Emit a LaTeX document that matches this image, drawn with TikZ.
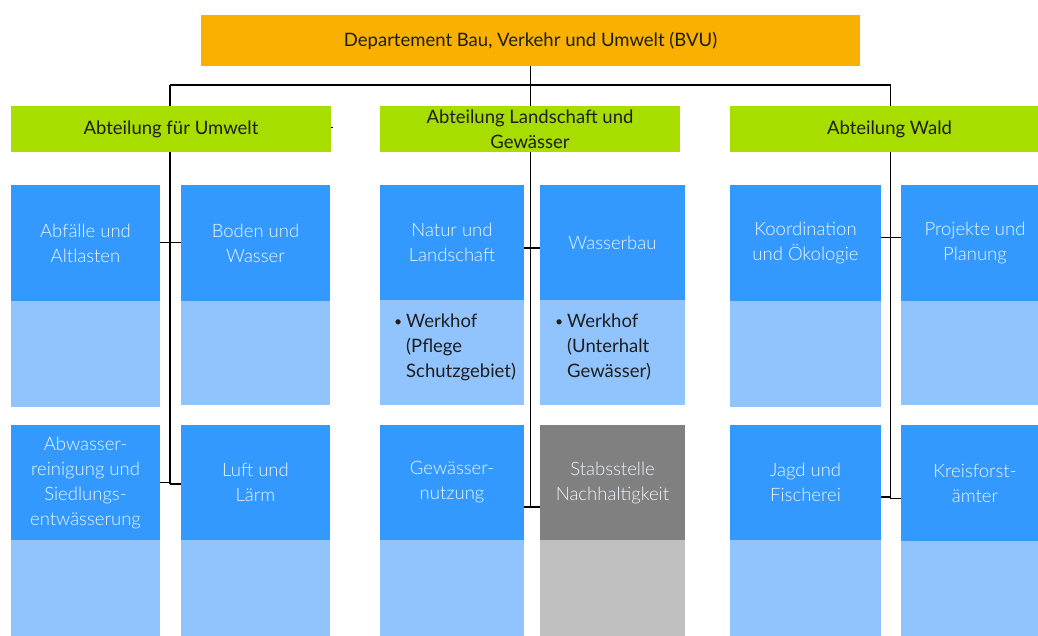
\documentclass[tikz,border=0pt]{standalone}
\usepackage{fontspec}
\setmainfont{Lato}
\newfontfamily\lightf{Lato Light}
\usetikzlibrary{backgrounds}
\definecolor{orng}{HTML}{F9B000}
\definecolor{grn}{HTML}{A8DD00}
\definecolor{dblue}{HTML}{3399FF}
\definecolor{lblue}{HTML}{91C3FD}
\definecolor{dgray}{HTML}{808080}
\definecolor{lgray}{HTML}{C0C0C0}
\definecolor{btext}{HTML}{EEF6FF}
\definecolor{dtext}{HTML}{1E1E1E}
\newcommand{\fsz}{\fontsize{18.5}{25}\selectfont}
\newcommand{\smbul}{{\fontsize{14}{14}\selectfont\raisebox{1pt}{\textbullet}}}
\begin{document}
\begin{tikzpicture}[x=1pt,y=-1pt,
  box/.style={rectangle, inner sep=0pt, outer sep=0pt, anchor=north west, align=center, font=\fsz},
  head/.style={box, text=dtext},
  dk/.style={box, fill=dblue, text=btext, font=\fsz\lightf},
  lt/.style={box, fill=lblue},
  gdk/.style={box, fill=dgray, text=btext, font=\fsz\lightf},
  glt/.style={box, fill=lgray},
  bul/.style={anchor=base west, inner sep=0pt, font=\fsz, text=dtext},
  conn/.style={draw=black, line width=1.2pt}]
\path[use as bounding box, clip] (0,0) rectangle (1038,636);

% head boxes
\node[head, fill=orng, minimum width=659pt, minimum height=51pt] (top) at (201,15) {Departement Bau, Verkehr und Umwelt (BVU)};
\node[head, fill=grn, minimum width=320pt, minimum height=46pt] (gL) at (11,106) {Abteilung für Umwelt};
\node[head, fill=grn, minimum width=300pt, minimum height=46pt] (gM) at (380,106) {Abteilung Landschaft und\\Gewässer};
\node[head, fill=grn, minimum width=319pt, minimum height=46pt] (gR) at (730,106) {Abteilung Wald};

% left column
\node[dk, minimum width=149pt, minimum height=115.7pt] (A) at (11,185) {Abfälle und\\Altlasten};
\node[lt, minimum width=149pt, minimum height=106pt] (Al) at (A.south west) {};
\node[dk, minimum width=149pt, minimum height=115.7pt] (B) at (181,185) {Boden und\\Wasser};
\node[lt, minimum width=149pt, minimum height=104.3pt] (Bl) at (B.south west) {};
\node[dk, minimum width=149pt, minimum height=115pt] (A2) at (11,425) {Abwasser-\\reinigung und\\Siedlungs-\\entwässerung};
\node[lt, minimum width=149pt, minimum height=100pt] (A2l) at (A2.south west) {};
\node[dk, minimum width=149pt, minimum height=115pt] (B2) at (181,425) {Luft und\\Lärm};
\node[lt, minimum width=149pt, minimum height=100pt] (B2l) at (B2.south west) {};

% middle column
\node[dk, minimum width=144pt, minimum height=115pt] (C) at (380,185) {Natur und\\Landschaft};
\node[lt, minimum width=144pt, minimum height=105pt] (Cl) at (C.south west) {};
\node[dk, minimum width=145pt, minimum height=115pt] (D) at (540,185) {Wasserbau};
\node[lt, minimum width=145pt, minimum height=105pt] (Dl) at (D.south west) {};
\node[dk, minimum width=144pt, minimum height=115pt] (C2) at (380,425) {Gewässer-\\nutzung};
\node[lt, minimum width=144pt, minimum height=100pt] (C2l) at (C2.south west) {};
\node[gdk, minimum width=145pt, minimum height=115pt] (D2) at (540,425) {Stabsstelle\\Nachhaltigkeit};
\node[glt, minimum width=145pt, minimum height=100pt] (D2l) at (D2.south west) {};

\node[bul] (wC) at ([xshift=14pt, yshift=-27pt]Cl.north west)
  {\begin{tabular}[t]{@{}p{12pt}@{}l@{}}\smbul & Werkhof\\ & (Pflege\\ & Schutzgebiet)\end{tabular}};
\node[bul] (wD) at ([xshift=15pt, yshift=-27pt]Dl.north west)
  {\begin{tabular}[t]{@{}p{12pt}@{}l@{}}\smbul & Werkhof\\ & (Unterhalt\\ & Gewässer)\end{tabular}};

% right column
\node[dk, minimum width=151pt, minimum height=116pt] (E) at (730,185) {Koordination\\und Ökologie};
\node[lt, minimum width=151pt, minimum height=105.7pt] (El) at (E.south west) {};
\node[dk, minimum width=148pt, minimum height=116pt] (F) at (901,185) {Projekte und\\Planung};
\node[lt, minimum width=148pt, minimum height=104pt] (Fl) at (F.south west) {};
\node[dk, minimum width=151pt, minimum height=115pt] (E2) at (730,425) {Jagd und\\Fischerei};
\node[lt, minimum width=151pt, minimum height=100pt] (E2l) at (E2.south west) {};
\node[dk, minimum width=148pt, minimum height=116pt] (F2) at (901,425) {Kreisforst-\\ämter};
\node[lt, minimum width=148pt, minimum height=100pt] (F2l) at (F2.south west) {};

\begin{scope}[on background layer]
\coordinate (jL) at (170,85);
\coordinate (jR) at (890.7,85);
\coordinate (endL) at (170,484);
\coordinate (endM) at (530.5,507);
\coordinate (endR) at (890.7,498.7);
\draw[conn] (jL) -- (jR);
\draw[conn] (top.south) -- (endM);
\draw[conn] (jL) -- (endL);
\draw[conn] (jR) -- (endR);
\draw[conn] (A.east) -- (A.east -| B.west);
\draw[conn] (A2.east) -- (A2.east -| endL);
\draw[conn] ([yshift=-1.5pt]B2.west) -- (endL);
\draw[conn] ([yshift=-5.5pt]C.east) -- ([yshift=-5.5pt]D.west);
\draw[conn] ([yshift=-24.5pt]C2.east) -- ([yshift=-24.5pt]D2.west);
\draw[conn] ([yshift=5.3pt]E.east) -- ([yshift=5.3pt]F.west);
\draw[conn] ([yshift=-14.5pt]E2.east) -- ([yshift=-14.5pt]E2.east -| endR);
\draw[conn] ([yshift=-15.7pt]F2.west) -- (endR);
\end{scope}
\draw[line width=1pt] ([yshift=1pt]gL.east) -- ++(1.5,0);
\end{tikzpicture}
\end{document}
